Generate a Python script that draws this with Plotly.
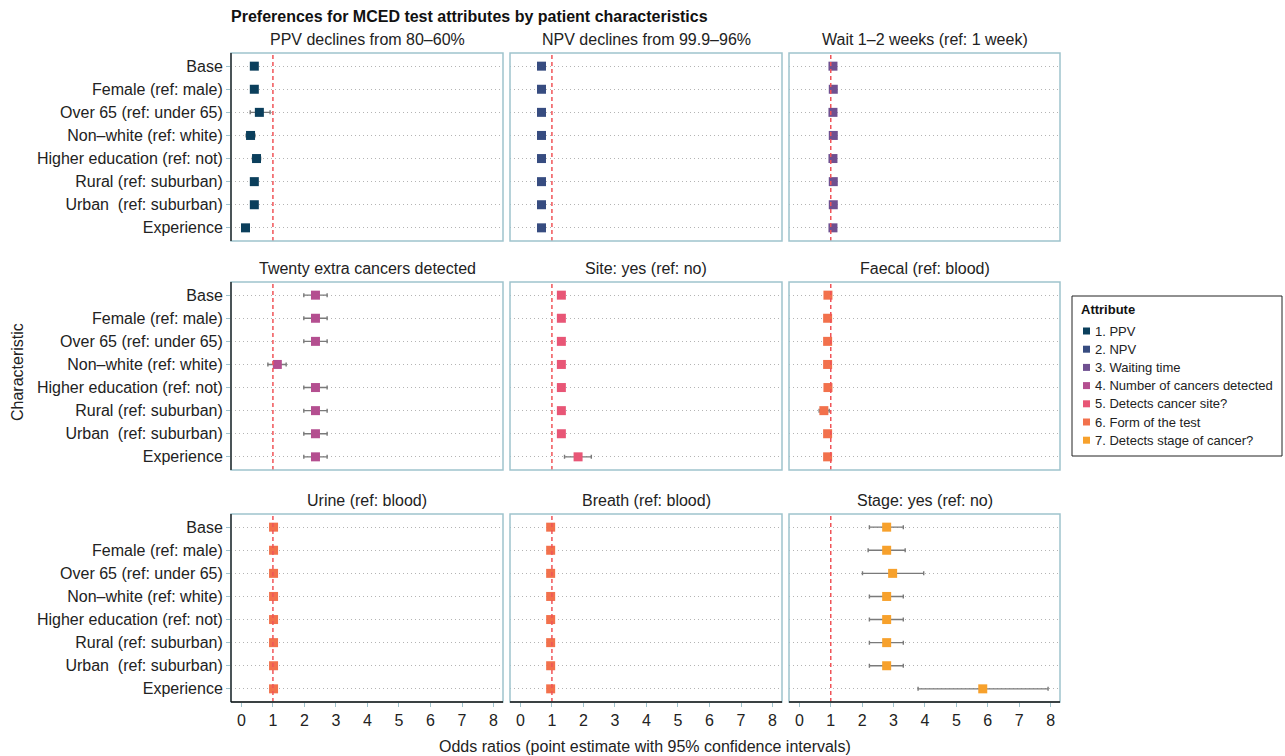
import plotly.graph_objects as go
from plotly.subplots import make_subplots

W, H = 1285, 756
FONT = "Liberation Sans, Arial, sans-serif"

# Rows of every panel, top to bottom
characteristics = [
    "Base",
    "Female (ref: male)",
    "Over 65 (ref: under 65)",
    "Non\u2013white (ref: white)",
    "Higher education (ref: not)",
    "Rural (ref: suburban)",
    "Urban\u00a0 (ref: suburban)",
    "Experience",
]

attributes = [
    "1. PPV",
    "2. NPV",
    "3. Waiting time",
    "4. Number of cancers detected",
    "5. Detects cancer site?",
    "6. Form of the test",
    "7. Detects stage of cancer?",
]
attribute_colors = ["#0b3f5c", "#374c80", "#6f5090", "#b44f90", "#e85676", "#f2714c", "#f7a12c"]

panel_titles = [
    "PPV declines from 80\u201360%",
    "NPV declines from 99.9\u201396%",
    "Wait 1\u20132 weeks (ref: 1 week)",
    "Twenty extra cancers detected",
    "Site: yes (ref: no)",
    "Faecal (ref: blood)",
    "Urine (ref: blood)",
    "Breath (ref: blood)",
    "Stage: yes (ref: no)",
]
panel_attribute = [0, 1, 2, 3, 4, 5, 5, 5, 6]

# Odds ratios with lower / upper 95% CI, one list per panel
ppv_or = [0.41, 0.41, 0.57, 0.29, 0.48, 0.41, 0.41, 0.13]
ppv_lo = [0.33, 0.33, 0.28, 0.15, 0.35, 0.32, 0.32, 0.06]
ppv_hi = [0.50, 0.50, 0.91, 0.43, 0.61, 0.51, 0.51, 0.22]

npv_or = [0.67, 0.67, 0.67, 0.67, 0.67, 0.67, 0.67, 0.67]
npv_lo = [0.62, 0.62, 0.61, 0.61, 0.62, 0.61, 0.61, 0.60]
npv_hi = [0.72, 0.72, 0.73, 0.73, 0.72, 0.73, 0.73, 0.74]

wait_or = [1.07, 1.08, 1.07, 1.08, 1.07, 1.08, 1.08, 1.07]
wait_lo = [1.00, 1.00, 0.99, 0.99, 1.00, 0.99, 0.99, 0.98]
wait_hi = [1.14, 1.15, 1.15, 1.17, 1.14, 1.16, 1.16, 1.16]

twenty_or = [2.35, 2.35, 2.35, 1.14, 2.35, 2.35, 2.35, 2.35]
twenty_lo = [1.98, 1.98, 1.98, 0.84, 1.98, 1.98, 1.98, 1.98]
twenty_hi = [2.72, 2.72, 2.72, 1.42, 2.72, 2.72, 2.72, 2.72]

site_or = [1.30, 1.30, 1.30, 1.30, 1.30, 1.30, 1.30, 1.83]
site_lo = [1.22, 1.22, 1.21, 1.21, 1.22, 1.21, 1.21, 1.40]
site_hi = [1.38, 1.38, 1.39, 1.39, 1.38, 1.39, 1.39, 2.25]

faecal_or = [0.91, 0.90, 0.90, 0.90, 0.91, 0.78, 0.90, 0.90]
faecal_lo = [0.84, 0.83, 0.83, 0.82, 0.84, 0.63, 0.83, 0.82]
faecal_hi = [0.98, 0.97, 0.97, 0.98, 0.98, 0.95, 0.97, 0.98]

urine_or = [1.02, 1.02, 1.02, 1.02, 1.02, 1.02, 1.02, 1.02]
urine_lo = [0.95, 0.95, 0.95, 0.95, 0.95, 0.95, 0.95, 0.94]
urine_hi = [1.09, 1.09, 1.09, 1.09, 1.09, 1.09, 1.09, 1.10]

breath_or = [0.96, 0.96, 0.96, 0.96, 0.96, 0.96, 0.96, 0.96]
breath_lo = [0.90, 0.90, 0.90, 0.90, 0.90, 0.90, 0.90, 0.89]
breath_hi = [1.02, 1.02, 1.02, 1.02, 1.02, 1.02, 1.02, 1.03]

stage_or = [2.78, 2.78, 2.97, 2.78, 2.78, 2.78, 2.78, 5.84]
stage_lo = [2.23, 2.19, 2.01, 2.23, 2.23, 2.23, 2.23, 3.78]
stage_hi = [3.31, 3.37, 3.96, 3.31, 3.31, 3.31, 3.31, 7.92]

x_ticks = [0, 1, 2, 3, 4, 5, 6, 7, 8]
reference_or = 1

panel_or = [ppv_or, npv_or, wait_or, twenty_or, site_or, faecal_or, urine_or, breath_or, stage_or]
panel_lo = [ppv_lo, npv_lo, wait_lo, twenty_lo, site_lo, faecal_lo, urine_lo, breath_lo, stage_lo]
panel_hi = [ppv_hi, npv_hi, wait_hi, twenty_hi, site_hi, faecal_hi, urine_hi, breath_hi, stage_hi]

# Panel placement in pixels
col_px = [(231, 503), (510, 782), (789, 1060)]
row_px = [(53, 241), (282, 470), (514, 702)]

BORDER = "#9fc3cd"
GRID = "#b4b4b4"
TEXT = "#222222"

fig = make_subplots(rows=3, cols=3)

for i in range(9):
    r, c = divmod(i, 3)
    a = panel_attribute[i]
    vals = panel_or[i]
    plus = [h - v for h, v in zip(panel_hi[i], vals)]
    minus = [v - l for l, v in zip(panel_lo[i], vals)]
    fig.add_trace(
        go.Scatter(
            x=vals,
            y=characteristics,
            mode="markers",
            marker=dict(symbol="square", size=9, color=attribute_colors[a], line=dict(width=0)),
            error_x=dict(type="data", symmetric=False, array=plus, arrayminus=minus,
                         color="#7a7a7a", thickness=1.4, width=2),
            name=attributes[a],
            showlegend=False,
            hoverinfo="skip",
        ),
        row=r + 1, col=c + 1,
    )

shapes = []
annotations = []
for i in range(9):
    r, c = divmod(i, 3)
    n = "" if i == 0 else str(i + 1)
    x0, x1 = col_px[c]
    y0, y1 = row_px[r]
    fig.layout["xaxis" + n].update(
        domain=[x0 / W, x1 / W],
        range=[-0.33, 8.3],
        tickvals=x_ticks,
        showticklabels=(r == 2),
        ticks="outside" if r == 2 else "",
        ticklen=4, tickcolor=BORDER, tickwidth=1,
        tickfont=dict(size=16, color=TEXT, family=FONT),
        showgrid=False, zeroline=False, showline=False,
    )
    fig.layout["yaxis" + n].update(
        domain=[1 - y1 / H, 1 - y0 / H],
        type="category",
        categoryorder="array",
        categoryarray=characteristics[::-1],
        range=[-0.57, 7.57],
        showticklabels=(c == 0),
        ticks="outside" if c == 0 else "",
        ticklen=4, tickcolor=BORDER, tickwidth=1,
        tickfont=dict(size=16, color=TEXT, family=FONT),
        showgrid=True, gridcolor=GRID, gridwidth=1, griddash="1px,3px",
        zeroline=False, showline=False,
    )
    xd = "x" + n + " domain"
    yd = "y" + n + " domain"
    # reference line at OR = 1
    shapes.append(dict(type="line", xref="x" + n, yref=yd, x0=reference_or, x1=reference_or, y0=0, y1=1,
                       line=dict(color="#f05458", width=1.5, dash="4px,3px"), layer="above"))
    # panel frame
    shapes.append(dict(type="rect", xref=xd, yref=yd, x0=0, x1=1, y0=0, y1=1,
                       line=dict(color=BORDER, width=1.5), layer="above"))
    if c == 0:
        shapes.append(dict(type="line", xref=xd, yref=yd, x0=0, x1=0, y0=0, y1=1,
                           line=dict(color="#111111", width=1.3), layer="above"))
    if r == 2:
        shapes.append(dict(type="line", xref=xd, yref=yd, x0=0, x1=1, y0=0, y1=0,
                           line=dict(color="#111111", width=1.3), layer="above"))
    annotations.append(dict(text=panel_titles[i], xref="paper", yref="paper",
                            x=(x0 + x1) / 2 / W, y=1 - (y0 - 3) / H,
                            xanchor="center", yanchor="bottom", showarrow=False,
                            font=dict(size=16, color=TEXT, family=FONT)))

annotations.append(dict(text="<b>Preferences for MCED test attributes by patient characteristics</b>",
                        xref="paper", yref="paper", x=229 / W, y=1 - 16 / H,
                        xanchor="left", yanchor="middle", showarrow=False,
                        font=dict(size=16, color="#111111", family=FONT)))
annotations.append(dict(text="Characteristic", xref="paper", yref="paper", x=17 / W, y=1 - 372 / H,
                        xanchor="center", yanchor="middle", textangle=-90, showarrow=False,
                        font=dict(size=16, color=TEXT, family=FONT)))
annotations.append(dict(text="Odds ratios (point estimate with 95% confidence intervals)",
                        xref="paper", yref="paper", x=645 / W, y=1 - 746 / H,
                        xanchor="center", yanchor="middle", showarrow=False,
                        font=dict(size=16, color=TEXT, family=FONT)))

# Legend box drawn in pixel space
LEG_L, LEG_R, LEG_T, LEG_B = 1072, 1282, 296, 456
shapes.append(dict(type="rect", xref="paper", yref="paper",
                   x0=LEG_L / W, x1=LEG_R / W, y0=1 - LEG_B / H, y1=1 - LEG_T / H,
                   line=dict(color="#222222", width=1), fillcolor="white", layer="above"))
annotations.append(dict(text="<b>Attribute</b>", xref="paper", yref="paper",
                        x=1079 / W, y=1 - 310 / H, xanchor="left", yanchor="middle",
                        showarrow=False, font=dict(size=13, color="#111111", family=FONT)))
for k, (name, col) in enumerate(zip(attributes, attribute_colors)):
    cy = 331 + k * 18.2
    shapes.append(dict(type="rect", xref="paper", yref="paper",
                       x0=1083 / W, x1=1090 / W, y0=1 - (cy + 3.5) / H, y1=1 - (cy - 3.5) / H,
                       line=dict(width=0), fillcolor=col, layer="above"))
    annotations.append(dict(text=name, xref="paper", yref="paper",
                            x=1093 / W, y=1 - cy / H, xanchor="left", yanchor="middle",
                            showarrow=False, font=dict(size=13, color=TEXT, family=FONT)))

fig.update_layout(
    width=W, height=H,
    margin=dict(l=0, r=0, t=0, b=0),
    paper_bgcolor="white", plot_bgcolor="white",
    shapes=shapes, annotations=annotations,
    font=dict(family=FONT, color=TEXT),
    showlegend=False,
)

fig.write_html("out.html")
